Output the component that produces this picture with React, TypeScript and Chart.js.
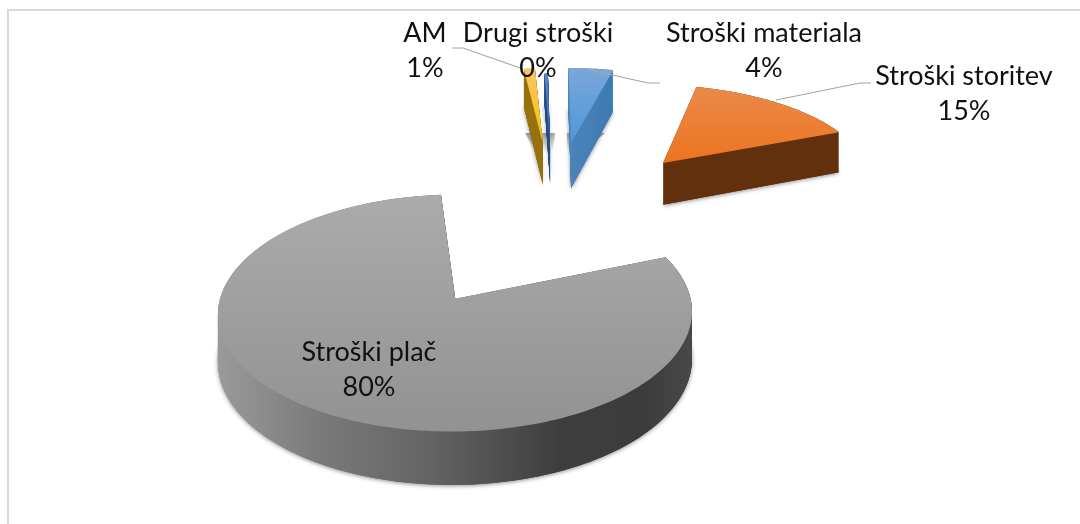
import React, { useEffect, useRef } from "react";
import { Chart, registerables } from "chart.js";

Chart.register(...registerables);

const categories = ["Stroški materiala", "Stroški storitev", "Stroški plač", "AM", "Drugi stroški"];
const seriesValues = [4, 15, 80, 1, 0.3];
const topColors = ["#5b9bd5", "#ed7d31", "#a5a5a5", "#ffc000", "#4472c4"];

// Presentation only: pie explosion in disc units, wall colours, label placement
const shiftU = [0.6, 1.04, 0.012, 0.457, 0.49];
const shiftV = [-1.59, -1.35, 0, -1.58, -1.51];
const skewX = [0.11, 0.09, 0.03, 0.05, 0.09];
const depthScale = [1.15, 1.03, 1, 1.05, 0.85];
const topGradients = [
  ["#7ba6d9", "#4e97d9"],
  ["#ea8a4a", "#ee7420"],
  ["#ababab", "#929292"],
  ["#f7c766", "#ffbe00"],
  ["#5b85cc", "#2f62b8"],
];
const wallStops = [
  [[0, "#4d84b8"], [1, "#3c7ab3"]],
  [[0, "#63300d"], [1, "#63300d"]],
  [[0, "#9a9a9a"], [0.2, "#7c7c7c"], [0.45, "#636363"], [0.72, "#3e3e3e"], [0.9, "#3c3c3c"], [1, "#484848"]],
  [[0, "#96710d"], [1, "#96710d"]],
  [[0, "#254a82"], [1, "#254a82"]],
];
const labelX = [764, 964, 369, 425, 538];
const labelY = [33, 76, 352, 33, 33];
const leaders = [
  [[590, 70], [648, 83], [660, 83]],
  [[776, 100], [860, 83], [871, 83]],
  [],
  [[452, 48], [463, 48], [523, 69]],
  [],
];
const shadowStrips = [
  [[567, 133], [605, 133], [585, 150], [567, 150]],
  [[525, 133], [555, 133], [553, 152], [535, 152]],
];

const CX = 452.5, CY = 313, RX = 237, RY = 118.5, A = -0.12, K = Math.sqrt(1 - A * A), DEPTH = 47;

function project(u: number, v: number, i: number) {
  const d = 1 + A * v;
  const y = CY + (RY * (v + A)) / d;
  const apexD = 1 + A * shiftV[i];
  const apexY = CY + (RY * (shiftV[i] + A)) / apexD;
  return { x: CX + (RX * K * u) / d + skewX[i] * (apexY - y), y, d };
}

function slicePath(ctx: CanvasRenderingContext2D, el: any, i: number, t: number) {
  const a0 = el.startAngle, a1 = el.endAngle;
  const su = shiftU[i], sv = shiftV[i];
  const steps = Math.max(4, Math.ceil((a1 - a0) * 40));
  const dz = t * DEPTH * depthScale[i];
  ctx.beginPath();
  const apex = project(su, sv, i);
  ctx.moveTo(apex.x, apex.y + dz / apex.d);
  for (let s = 0; s <= steps; s++) {
    const a = a0 + ((a1 - a0) * s) / steps;
    const p = project(su + Math.cos(a), sv + Math.sin(a), i);
    ctx.lineTo(p.x, p.y + dz / p.d);
  }
  ctx.closePath();
}

function bounds(el: any, i: number) {
  const xs: number[] = [], ys: number[] = [];
  const pts: [number, number][] = [[shiftU[i], shiftV[i]]];
  for (let s = 0; s <= 40; s++) {
    const a = el.startAngle + ((el.endAngle - el.startAngle) * s) / 40;
    pts.push([shiftU[i] + Math.cos(a), shiftV[i] + Math.sin(a)]);
  }
  pts.forEach(([u, v]) => { const p = project(u, v, i); xs.push(p.x); ys.push(p.y); });
  return { x0: Math.min(...xs), x1: Math.max(...xs), y0: Math.min(...ys), y1: Math.max(...ys) };
}

const pie3d = {
  id: "pie3d",
  beforeDatasetDraw(chart: any) {
    const ctx: CanvasRenderingContext2D = chart.ctx;
    shadowStrips.forEach((poly) => {
      const g = ctx.createLinearGradient(0, poly[0][1], 0, poly[2][1]);
      g.addColorStop(0, "rgba(70,70,70,0.5)");
      g.addColorStop(1, "rgba(70,70,70,0)");
      ctx.fillStyle = g;
      ctx.beginPath();
      poly.forEach(([x, y], j) => (j ? ctx.lineTo(x, y) : ctx.moveTo(x, y)));
      ctx.closePath();
      ctx.fill();
    });
    chart.getDatasetMeta(0).data.forEach((el: any, i: number) => {
      const b = bounds(el, i);
      const wall = ctx.createLinearGradient(b.x0, 0, b.x1, 0);
      wallStops[i].forEach(([o, c]: any) => wall.addColorStop(o, c));
      // soft contact shadow under the lowest layer
      ctx.save();
      ctx.shadowColor = "rgba(0,0,0,0.45)";
      ctx.shadowBlur = 4;
      ctx.shadowOffsetY = 1;
      ctx.fillStyle = wall;
      slicePath(ctx, el, i, 1);
      ctx.fill();
      ctx.restore();
      ctx.fillStyle = wall;
      for (let s = 60; s >= 0; s--) {
        slicePath(ctx, el, i, s / 60);
        ctx.fill();
      }
      const top = ctx.createLinearGradient(0, b.y0, 0, b.y1);
      top.addColorStop(0, topGradients[i][0]);
      top.addColorStop(1, topGradients[i][1]);
      ctx.fillStyle = top;
      slicePath(ctx, el, i, 0);
      ctx.fill();
    });
    return false;
  },
  afterDatasetsDraw(chart: any) {
    const ctx: CanvasRenderingContext2D = chart.ctx;
    const total = seriesValues.reduce((s, v) => s + v, 0);
    ctx.save();
    // frame
    ctx.strokeStyle = "#d9d9d9";
    ctx.lineWidth = 2;
    ctx.beginPath();
    ctx.moveTo(8, 524);
    ctx.lineTo(8, 10);
    ctx.lineTo(1080, 10);
    ctx.stroke();
    // leaders
    ctx.strokeStyle = "#a6a6a6";
    ctx.lineWidth = 1.2;
    leaders.forEach((l) => {
      if (!l.length) return;
      ctx.beginPath();
      l.forEach(([x, y], j) => (j ? ctx.lineTo(x, y) : ctx.moveTo(x, y)));
      ctx.stroke();
    });
    // labels
    ctx.fillStyle = "#111111";
    ctx.font = "27px Lato";
    ctx.textAlign = "center";
    ctx.textBaseline = "middle";
    categories.forEach((c, i) => {
      ctx.fillText(c, labelX[i], labelY[i]);
      ctx.fillText(Math.round((seriesValues[i] / total) * 100) + "%", labelX[i], labelY[i] + 35);
    });
    ctx.restore();
  },
};

export default function App() {
  const ref = useRef<HTMLCanvasElement>(null);
  useEffect(() => {
    const chart = new Chart(ref.current!, {
      type: "pie",
      data: { labels: categories, datasets: [{ data: seriesValues, backgroundColor: topColors, borderWidth: 0 }] },
      options: {
        animation: false,
        responsive: false,
        rotation: 0,
        plugins: { legend: { display: false }, tooltip: { enabled: false }, title: { display: false } },
      },
      plugins: [pie3d],
    } as any);
    return () => chart.destroy();
  }, []);
  return (
    <canvas
      ref={ref}
      width={1080}
      height={524}
      style={{ position: "fixed", left: 0, top: 0, width: 1080, height: 524, background: "#fff" }}
    />
  );
}
